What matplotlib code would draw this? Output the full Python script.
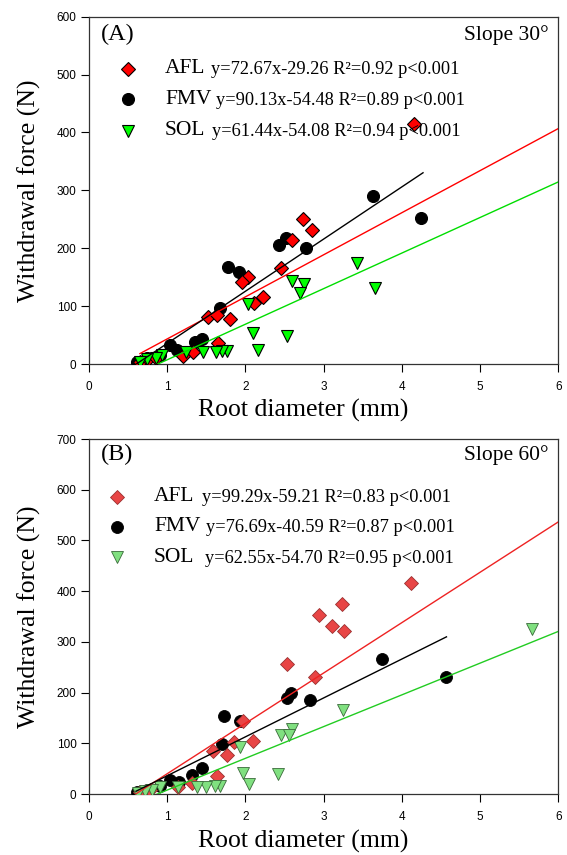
import matplotlib
matplotlib.use("Agg")
import matplotlib.pyplot as plt

# ---------------- data: Slope 30° ----------------
afl30_x = [4.16, 2.73, 2.85, 2.60, 2.46, 2.03, 1.96, 2.22, 2.11, 1.52, 1.63, 1.80, 1.65, 1.33, 1.20, 0.65, 0.75, 0.85]
afl30_y = [415, 251, 231, 215, 165, 150, 141, 116, 105, 82, 84, 77, 37, 21, 14, 3, 8, 10]
fmv30_x = [4.25, 3.63, 2.77, 2.52, 2.43, 1.78, 1.92, 1.68, 1.44, 1.35, 1.03, 1.12, 0.91, 0.74, 0.61, 0.69]
fmv30_y = [253, 290, 201, 218, 206, 167, 159, 96, 44, 38, 33, 25, 15, 10, 3, 4]
sol30_x = [3.43, 3.66, 2.59, 2.75, 2.70, 2.03, 2.09, 2.16, 2.53, 1.76, 1.70, 1.62, 1.46, 1.24, 0.93, 0.86, 0.74, 0.65]
sol30_y = [174, 132, 144, 138, 123, 103, 54, 25, 48, 23, 23, 21, 20, 21, 15, 10, 8, 4]

# ---------------- data: Slope 60° ----------------
afl60_x = [4.11, 3.23, 2.94, 3.11, 3.26, 2.53, 2.89, 1.97, 2.09, 1.85, 1.59, 1.76, 1.64, 1.31, 1.14, 0.65, 0.78]
afl60_y = [417, 375, 352, 332, 322, 256, 230, 144, 105, 103, 84, 77, 36, 21, 13, 3, 8]
fmv60_x = [4.56, 3.75, 2.82, 2.58, 2.53, 1.72, 1.93, 1.70, 1.44, 1.32, 1.03, 1.15, 0.91, 0.74, 0.61]
fmv60_y = [231, 266, 185, 200, 189, 154, 144, 99, 52, 38, 28, 24, 15, 8, 3]
sol60_x = [5.67, 3.25, 2.60, 2.45, 2.56, 1.93, 1.97, 2.04, 2.41, 1.67, 1.61, 1.50, 1.38, 1.14, 0.91, 0.81, 0.72, 0.62]
sol60_y = [325, 166, 128, 116, 116, 92, 42, 20, 39, 16, 16, 14, 14, 14, 13, 8, 5, 2]

# regression coefficients (slope, intercept) and fitted x-range
species = ["AFL", "FMV", "SOL"]
fit30 = [(72.67, -29.26), (90.13, -54.48), (61.44, -54.08)]
fit60 = [(99.29, -59.21), (76.69, -40.59), (62.55, -54.70)]
range30 = [(0.65, 6.0), (0.60, 4.27), (0.60, 6.0)]
range60 = [(0.60, 6.0), (0.60, 4.57), (0.60, 6.0)]
eq30 = ["y=72.67x-29.26 R\u00b2=0.92 p<0.001",
        "y=90.13x-54.48 R\u00b2=0.89 p<0.001",
        "y=61.44x-54.08 R\u00b2=0.94 p<0.001"]
eq60 = ["y=99.29x-59.21 R\u00b2=0.83 p<0.001",
        "y=76.69x-40.59 R\u00b2=0.87 p<0.001",
        "y=62.55x-54.70 R\u00b2=0.95 p<0.001"]
x_ticks = [0, 1, 2, 3, 4, 5, 6]
y_ticks30 = [0, 100, 200, 300, 400, 500, 600]
y_ticks60 = [0, 100, 200, 300, 400, 500, 600, 700]

SERIF = "Liberation Serif"
SANS = "Liberation Sans"

fig = plt.figure(figsize=(5.67, 8.55), dpi=100)
W, H = 567, 855


def add_axes(px_left, px_right, px_top, px_bottom):
    return fig.add_axes([px_left / W, 1 - px_bottom / H,
                         (px_right - px_left) / W, (px_bottom - px_top) / H])


ax1 = add_axes(89.1, 558.3, 16.7, 364)
ax2 = add_axes(89.1, 558.3, 439, 794)

styles30 = [
    dict(marker="D", ms=6.8, mfc="#ff0000", mec="black", mew=0.8),
    dict(marker="o", ms=8.6, mfc="black", mec="black", mew=0.8),
    dict(marker="v", ms=8.6, mfc="#00ff00", mec="black", mew=0.8),
]
styles60 = [
    dict(marker="D", ms=6.8, mfc="#e84545", mec="#9a3030", mew=0.6),
    dict(marker="o", ms=8.6, mfc="black", mec="black", mew=0.6),
    dict(marker="v", ms=8.6, mfc="#80e080", mec="#3a6a3a", mew=0.6),
]
line_colors = ["#ff0000", "black", "#00dd00"]
line_colors60 = ["#ee2222", "black", "#22cc22"]


def panel(ax, xs, ys, fits, ranges, eqs, styles, lcols, yticks, ymax,
          tag, slope, tag_y, leg_y, mk_x, lab_x, gaps):
    order = [1, 0, 2]
    for i in order:
        ax.plot(xs[i], ys[i], linestyle="none", zorder=3, **styles[i])
    for i in range(3):
        a, b = fits[i]
        x0, x1 = ranges[i]
        ax.plot([x0, x1], [a * x0 + b, a * x1 + b], color=lcols[i], lw=1.0, zorder=4)
    ax.set_xlim(0, 6)
    ax.set_ylim(0, ymax)
    ax.set_xticks(x_ticks)
    ax.set_yticks(yticks)
    ax.tick_params(direction="out", length=6, width=0.8, labelsize=8.5,
                   top=False, right=False)
    ax.tick_params(axis="x", pad=6.5)
    ax.tick_params(axis="y", pad=3)
    for lab in ax.get_xticklabels() + ax.get_yticklabels():
        lab.set_fontfamily(SANS)
    for s in ax.spines.values():
        s.set_linewidth(0.9)
        s.set_color("#333333")
    ax.set_xlabel("Root diameter (mm)", fontfamily=SERIF, fontsize=18.5)
    ax.set_ylabel("Withdrawal force (N)", fontfamily=SERIF, fontsize=18.5)
    ax.xaxis.set_label_coords(0.456, -0.1)
    ax.yaxis.set_label_coords(-0.103, 0.5)
    ax.text(0.15, tag_y, tag, fontfamily=SERIF, fontsize=17.5, va="center", ha="left")
    ax.text(5.87, tag_y, slope, fontfamily=SERIF, fontsize=15.5, va="center", ha="right")
    for i in range(3):
        st = dict(styles[i])
        ax.plot([mk_x], [leg_y[i]], linestyle="none", clip_on=False, **st)
        lab = ax.text(lab_x, leg_y[i], species[i], fontfamily=SERIF, fontsize=15.5,
                      va="center", ha="left")
        ax.annotate(eqs[i], xy=(1, 0), xycoords=lab, xytext=(gaps[i], 0),
                    textcoords="offset pixels", fontfamily=SERIF, fontsize=13.2,
                    va="bottom", ha="left")


panel(ax1, [afl30_x, fmv30_x, sol30_x], [afl30_y, fmv30_y, sol30_y], fit30, range30,
      eq30, styles30, line_colors, y_ticks30, 600, "(A)", "Slope 30\u00b0",
      569, [510, 457, 403], 0.50, 0.97, [6, 5, 7])
panel(ax2, [afl60_x, fmv60_x, sol60_x], [afl60_y, fmv60_y, sol60_y], fit60, range60,
      eq60, styles60, line_colors60, y_ticks60, 700, "(B)", "Slope 60\u00b0",
      669, [586, 527, 467], 0.36, 0.83, [7, 6, 10])

fig.savefig("out.png", dpi=100)
